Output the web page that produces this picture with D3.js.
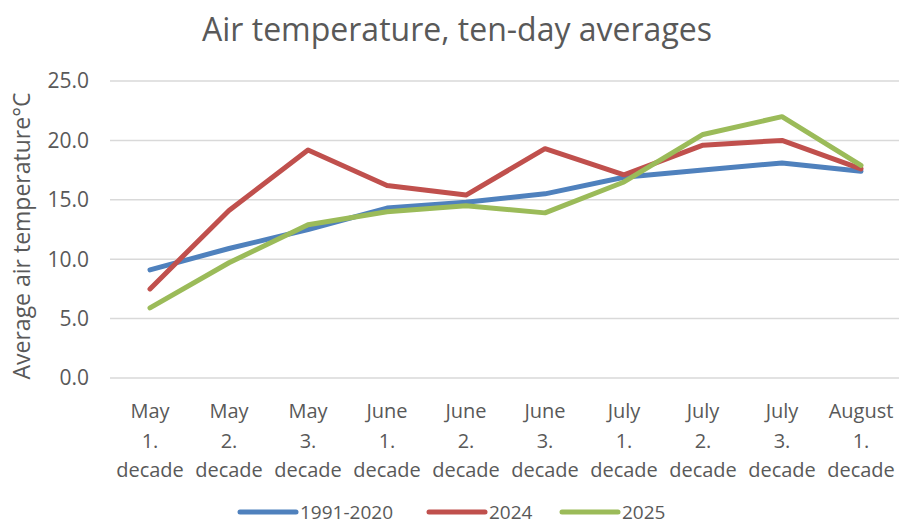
<!DOCTYPE html>
<html>
<head>
<meta charset="utf-8">
<script src="https://cdn.jsdelivr.net/npm/d3@7"></script>
<style>
  body { margin: 0; background: #fff; }
  svg text { fill: #595959; font-family: "Open Sans", "Noto Sans", sans-serif; }
</style>
</head>
<body>
<div id="chart"></div>
<script>
// chart data
const categories = [
  ["May", "1.", "decade"], ["May", "2.", "decade"], ["May", "3.", "decade"],
  ["June", "1.", "decade"], ["June", "2.", "decade"], ["June", "3.", "decade"],
  ["July", "1.", "decade"], ["July", "2.", "decade"], ["July", "3.", "decade"],
  ["August", "1.", "decade"]
];
const seriesNames = ["1991-2020", "2024", "2025"];
const normal = [9.1, 10.9, 12.5, 14.3, 14.8, 15.5, 16.9, 17.5, 18.1, 17.4];
const year2024 = [7.5, 14.1, 19.2, 16.2, 15.4, 19.3, 17.1, 19.6, 20.0, 17.6];
const year2025 = [5.9, 9.7, 12.9, 14.0, 14.5, 13.9, 16.5, 20.5, 22.0, 17.9];
const yTicks = [0, 5, 10, 15, 20, 25];
const colors = ["#4F81BD", "#C0504D", "#9BBB59"];

const width = 899;
const height = 528;

const svg = d3.select("#chart").append("svg")
  .attr("width", width)
  .attr("height", height);

// scales
const x = d3.scalePoint()
  .domain(d3.range(categories.length))
  .range([110.5, 900.5])
  .padding(0.5);

const y = d3.scaleLinear()
  .domain([0, 25])
  .range([378, 81]);

// title
svg.append("text")
  .attr("x", 457)
  .attr("y", 41)
  .attr("text-anchor", "middle")
  .style("font-size", "32px")
  .text("Air temperature, ten-day averages");

// gridlines
svg.append("g")
  .selectAll("line")
  .data(yTicks)
  .join("line")
  .attr("x1", 110)
  .attr("x2", 899)
  .attr("y1", d => y(d))
  .attr("y2", d => y(d))
  .attr("stroke", "#d9d9d9")
  .attr("stroke-width", 1.5);

// y tick labels
svg.append("g")
  .selectAll("text")
  .data(yTicks)
  .join("text")
  .attr("x", 89)
  .attr("y", d => y(d))
  .attr("dy", "0.35em")
  .attr("text-anchor", "end")
  .style("font-size", "21px")
  .text(d => d3.format(".1f")(d));

// y axis title
svg.append("text")
  .attr("transform", "translate(30,236) rotate(-90)")
  .attr("text-anchor", "middle")
  .style("font-size", "23px")
  .text("Average air temperature°C");

// category labels, three lines each
const cat = svg.append("g")
  .selectAll("text")
  .data(categories)
  .join("text")
  .attr("text-anchor", "middle")
  .style("font-size", "20px");

cat.selectAll("tspan")
  .data((d, i) => d.map(t => ({ t, i })))
  .join("tspan")
  .attr("x", d => x(d.i))
  .attr("y", (d, j) => 418 + j * 29.5)
  .text(d => d.t);

// lines
const allSeries = [normal, year2024, year2025];
const line = d3.line()
  .x((d, i) => x(i))
  .y(d => y(d));

svg.append("g")
  .selectAll("path")
  .data(allSeries)
  .join("path")
  .attr("d", d => line(d))
  .attr("fill", "none")
  .attr("stroke", (d, i) => colors[i])
  .attr("stroke-width", 5)
  .attr("stroke-linejoin", "round")
  .attr("stroke-linecap", "round");

// legend
const legendX = [240, 429, 562];
const legend = svg.append("g")
  .selectAll("g")
  .data(seriesNames)
  .join("g")
  .attr("transform", (d, i) => `translate(${legendX[i]},512)`);

legend.append("line")
  .attr("x1", 0)
  .attr("x2", 56)
  .attr("stroke", (d, i) => colors[i])
  .attr("stroke-width", 5)
  .attr("stroke-linecap", "round");

legend.append("text")
  .attr("x", 60)
  .attr("y", 7)
  .style("font-size", "19px")
  .text(d => d);
</script>
</body>
</html>
